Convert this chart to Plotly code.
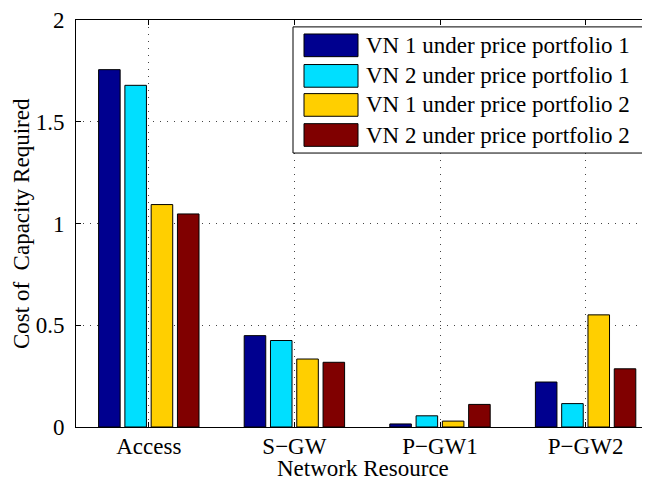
import plotly.graph_objects as go

# ── Data ──────────────────────────────────────────────────────────────────────
categories = ["Access", "S\u2212GW", "P\u2212GW1", "P\u2212GW2"]
series_names = [
    "VN 1 under price portfolio 1",
    "VN 2 under price portfolio 1",
    "VN 1 under price portfolio 2",
    "VN 2 under price portfolio 2",
]
vn1_pp1 = [1.756, 0.449, 0.015, 0.221]
vn2_pp1 = [1.679, 0.425, 0.055, 0.115]
vn1_pp2 = [1.093, 0.334, 0.029, 0.551]
vn2_pp2 = [1.047, 0.318, 0.111, 0.286]
y_ticks = [0, 0.5, 1, 1.5, 2]
y_ticklabels = ["0", "0.5", "1", "1.5", "2"]

colors = ["#00008f", "#00dfff", "#ffcf00", "#800000"]
_FONT = "Liberation Serif, Times New Roman, serif"
_GRID = "#444444"
_FS = 23

# page body has an 8px margin, so the figure is laid out 8px in from the window
OFF = 8
W, H = 650 - OFF, 478 - OFF
L, T, B = 76 - OFF, 14 - OFF, 427 - OFF
R = W


def px_x(px):
    return (px - OFF - L) / (R - L)


def px_y(py):
    return (B - (py - OFF)) / (B - T)


fig = go.Figure()
x_pos = list(range(1, len(categories) + 1))
for name, vals, col in zip(series_names, [vn1_pp1, vn2_pp1, vn1_pp2, vn2_pp2], colors):
    fig.add_trace(go.Bar(
        x=x_pos, y=vals, name=name,
        marker=dict(color=col, line=dict(color="black", width=1)),
        showlegend=False,
    ))

fig.update_layout(
    width=W, height=H,
    paper_bgcolor="white", plot_bgcolor="white",
    margin=dict(l=L, r=0, t=T, b=H - B),
    font=dict(family=_FONT, size=_FS, color="black"),
    barmode="group", bargap=0.278, bargroupgap=0.18,
    xaxis=dict(
        range=[0.5, 0.5 + (R - L) / 145.6],
        tickvals=x_pos, ticktext=categories,
        ticks="inside", ticklen=5, tickcolor="black",
        showline=True, linecolor="black", linewidth=1, mirror="ticks",
        showgrid=True, gridcolor=_GRID, griddash="1px,6px", gridwidth=1,
        zeroline=False, tickfont=dict(size=_FS), ticklabelstandoff=-2,
        ticklabeloverflow="allow",
    ),
    yaxis=dict(
        range=[0, 2],
        tickvals=y_ticks, ticktext=y_ticklabels,
        ticks="inside", ticklen=5, tickcolor="black",
        showline=True, linecolor="black", linewidth=1, mirror=False,
        showgrid=True, gridcolor=_GRID, griddash="1px,6px", gridwidth=1,
        zeroline=False, tickfont=dict(size=_FS), ticklabelstandoff=6,
        ticklabeloverflow="allow",
    ),
)

# ── Axis titles ───────────────────────────────────────────────────────────────
annotations = [
    dict(xref="paper", yref="paper", x=px_x(363), y=px_y(469),
         xanchor="center", yanchor="middle", showarrow=False,
         text="Network Resource", font=dict(family=_FONT, size=_FS)),
    dict(xref="paper", yref="paper", x=px_x(22), y=px_y(221),
         xanchor="center", yanchor="middle", showarrow=False, textangle=-90,
         text="Cost of  Capacity Required", font=dict(family=_FONT, size=_FS)),
]

# ── Legend drawn by hand (MATLAB-style large swatches) ────────────────────────
shapes = [dict(
    type="rect", xref="paper", yref="paper",
    x0=px_x(293), x1=px_x(670), y0=px_y(149), y1=px_y(21),
    line=dict(color="black", width=1), fillcolor="white", layer="above",
)]
row_centers = [39.7, 70.7, 100.2, 130.7]
for name, col, cy in zip(series_names, colors, row_centers):
    shapes.append(dict(
        type="rect", xref="paper", yref="paper",
        x0=px_x(304), x1=px_x(358), y0=px_y(cy + 11.5), y1=px_y(cy - 11.5),
        line=dict(color="black", width=1), fillcolor=col, layer="above",
    ))
    annotations.append(dict(
        xref="paper", yref="paper", x=px_x(364), y=px_y(cy),
        xanchor="left", yanchor="middle", showarrow=False,
        text=name, font=dict(family=_FONT, size=_FS, color="black"),
    ))
fig.update_layout(shapes=shapes, annotations=annotations)

fig.write_html("out.html")
